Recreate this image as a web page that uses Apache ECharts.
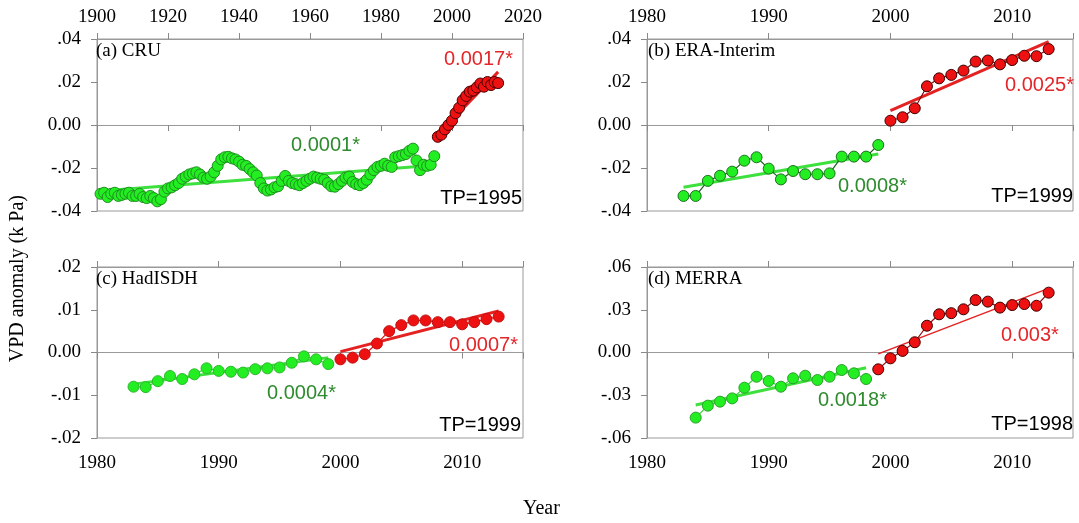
<!DOCTYPE html>
<html>
<head>
<meta charset="utf-8">
<script src="https://cdn.jsdelivr.net/npm/echarts@6.0.0/dist/echarts.min.js"></script>
<style>
html, body { margin: 0; padding: 0; background: #fff; }
#chart { width: 1079px; height: 523px; }
</style>
</head>
<body>
<div id="chart"></div>
<script>
// (a) CRU, green 1901-1995, red 1996-2013
var cruGreenStart = 1901;
var cruGreen = [
    -0.032, -0.0315, -0.0335, -0.032, -0.0315, -0.033, -0.0325, -0.032, -0.0315, -0.033,
    -0.033, -0.032, -0.0335, -0.034, -0.033, -0.034, -0.0355, -0.0345, -0.031, -0.0295,
    -0.029, -0.028, -0.027, -0.025, -0.024, -0.023, -0.0225, -0.022, -0.023, -0.0245,
    -0.025, -0.024, -0.022, -0.019, -0.016, -0.015, -0.0148, -0.0155, -0.016, -0.017,
    -0.0185, -0.019, -0.0205, -0.022, -0.0235, -0.027, -0.0295, -0.0305, -0.030, -0.029,
    -0.0285, -0.026, -0.0237, -0.026, -0.027, -0.0275, -0.028, -0.027, -0.026, -0.025,
    -0.024, -0.0245, -0.025, -0.0255, -0.027, -0.0285, -0.0287, -0.0275, -0.026, -0.0245,
    -0.024, -0.0265, -0.0275, -0.028, -0.027, -0.0255, -0.023, -0.021, -0.0195, -0.019,
    -0.018, -0.019, -0.0195, -0.015, -0.0145, -0.014, -0.0135, -0.012, -0.011, -0.0165,
    -0.021, -0.0185, -0.019, -0.0185, -0.0145
];
var cruRedStart = 1996;
var cruRed = [-0.0055, -0.0045, -0.002, 0.000, 0.002, 0.0055, 0.008, 0.0115, 0.0135,
    0.0155, 0.016, 0.0175, 0.0193, 0.0178, 0.020, 0.0186, 0.020, 0.0195];
var cruGreenTrend = [[1901, -0.0307], [1995, -0.0187]];
var cruRedTrend = [[1996, -0.0045], [2013, 0.0247]];

// (b) ERA-Interim, green 1983-1999, red 2000-2013
var eraGreenStart = 1983;
var eraGreen = [-0.033, -0.033, -0.026, -0.0236, -0.0217, -0.0166, -0.015, -0.0203, -0.0253,
    -0.0214, -0.0229, -0.0229, -0.0225, -0.0147, -0.0147, -0.0147, -0.0093];
var eraRedStart = 2000;
var eraRed = [0.002, 0.0036, 0.0078, 0.018, 0.0217, 0.0233, 0.0253, 0.0295, 0.030, 0.0282,
    0.0302, 0.0322, 0.032, 0.0353];
var eraGreenTrend = [[1983, -0.029], [1999, -0.0135]];
var eraRedTrend = [[2000, 0.0067], [2013, 0.0388]];

// (c) HadISDH, green 1983-1999, red 2000-2013
var hadGreenStart = 1983;
var hadGreen = [-0.008, -0.0081, -0.0067, -0.0055, -0.0062, -0.0051, -0.0037, -0.0043, -0.0045,
    -0.0047, -0.0039, -0.0037, -0.0035, -0.0024, -0.0009, -0.0016, -0.0027];
var hadRedStart = 2000;
var hadRed = [-0.0016, -0.0012, -0.0004, 0.0021, 0.005, 0.0064, 0.0075, 0.0075, 0.0071, 0.0071,
    0.0066, 0.0071, 0.0078, 0.0084];
var hadGreenTrend = [[1983, -0.0074], [1999, -0.0012]];
var hadRedTrend = [[2000, 0.0002], [2013, 0.0097]];

// (d) MERRA, green 1984-1998, red 1999-2013
var merGreenStart = 1984;
var merGreen = [-0.0457, -0.0373, -0.0345, -0.0322, -0.0247, -0.017, -0.020, -0.024, -0.0181,
    -0.0163, -0.0193, -0.017, -0.0123, -0.0146, -0.0186];
var merRedStart = 1999;
var merRed = [-0.0118, -0.0041, 0.0011, 0.0072, 0.0188, 0.0268, 0.0276, 0.0303, 0.0368, 0.0357,
    0.0315, 0.0333, 0.034, 0.0328, 0.042];
var merGreenTrend = [[1984, -0.0368], [1998, -0.0107]];
var merRedTrend = [[1999, -0.001], [2013, 0.045]];

var panelNames = ['(a) CRU', '(b) ERA-Interim', '(c) HadISDH', '(d) MERRA'];
var greenSlopes = ['0.0001*', '0.0008*', '0.0004*', '0.0018*'];
var redSlopes = ['0.0017*', '0.0025*', '0.0007*', '0.003*'];
var turningPoints = ['TP=1995', 'TP=1999', 'TP=1999', 'TP=1998'];
var yRanges = [[-0.04, 0.04, 0.02], [-0.04, 0.04, 0.02], [-0.02, 0.02, 0.01], [-0.06, 0.06, 0.03]];
var xRanges = [[1900, 2020, 20], [1980, 2015, 10], [1980, 2015, 10], [1980, 2015, 10]];

var SERIF = 'Liberation Serif';
var SANS = 'Liberation Sans';

function pts(start, vals) {
    return vals.map(function (v, i) { return [start + i, v]; });
}

var grids = [
    {left: 97, top: 39, width: 426, height: 172},
    {left: 647, top: 39, width: 426, height: 172},
    {left: 97, top: 267, width: 426, height: 171},
    {left: 647, top: 267, width: 426, height: 171}
];

var panels = [
    {green: pts(cruGreenStart, cruGreen), red: pts(cruRedStart, cruRed), gt: cruGreenTrend, rt: cruRedTrend,
        gLine: '#2bbf2b', gBorder: '#1f8f1f', rLine: '#a01010', rBorder: '#4a0000', rtWidth: 3},
    {green: pts(eraGreenStart, eraGreen), red: pts(eraRedStart, eraRed), gt: eraGreenTrend, rt: eraRedTrend,
        gLine: '#1d5e1d', gBorder: '#1d6e1d', rLine: '#7a0a0a', rBorder: '#3a0000', rtWidth: 3},
    {green: pts(hadGreenStart, hadGreen), red: pts(hadRedStart, hadRed), gt: hadGreenTrend, rt: hadRedTrend,
        gLine: '#33d633', gBorder: '#2cb82c', rLine: '#e01515', rBorder: '#c01010', rtWidth: 3},
    {green: pts(merGreenStart, merGreen), red: pts(merRedStart, merRed), gt: merGreenTrend, rt: merRedTrend,
        gLine: '#33d633', gBorder: '#2aa02a', rLine: '#901010', rBorder: '#400000', rtWidth: 1.5}
];

function yFmt(v) {
    if (Math.abs(v) < 1e-9) return '0.00';
    return (v < 0 ? '-' : '') + Math.abs(v).toFixed(2).replace(/^0/, '');
}

var xAxes = [], yAxes = [], series = [];
for (var i = 0; i < 4; i++) {
    var labelsTop = i < 2;
    ['bottom', 'top'].forEach(function (pos) {
        var xr = xRanges[i];
        var showLab = (pos === 'top') === labelsTop;
        xAxes.push({
            type: 'value', gridIndex: i, position: pos,
            min: xr[0], max: xr[1], interval: xr[2],
            axisLine: {show: true, lineStyle: {color: '#999', width: 1}},
            axisTick: {show: true, inside: false, length: 6, lineStyle: {color: '#888'}},
            axisLabel: {
                show: showLab, color: '#000', fontFamily: SERIF, fontSize: 19,
                margin: pos === 'top' ? 12 : 16,
                formatter: function (v) { return v % xr[2] === 0 ? String(v) : ''; }
            },
            splitLine: {show: false}
        });
    });
    var yr = yRanges[i];
    yAxes.push({
        type: 'value', gridIndex: i, min: yr[0], max: yr[1], interval: yr[2],
        axisLine: {show: true, lineStyle: {color: '#999', width: 1}},
        axisTick: {show: true, inside: false, length: 6, lineStyle: {color: '#888'}},
        axisLabel: {color: '#000', fontFamily: SERIF, fontSize: 19, margin: 16, formatter: yFmt},
        splitLine: {show: false}
    });

    var p = panels[i];
    var xi = i * 2;
    series.push({
        type: 'line', xAxisIndex: xi, yAxisIndex: i, data: p.gt, symbol: 'none', silent: true,
        lineStyle: {color: '#3ee03e', width: 3}, z: 1
    });
    series.push({
        type: 'line', xAxisIndex: xi, yAxisIndex: i, data: p.rt, symbol: 'none', silent: true,
        lineStyle: {color: '#e52222', width: p.rtWidth}, z: 1
    });
    series.push({
        type: 'line', xAxisIndex: xi, yAxisIndex: i, data: p.green, symbol: 'circle', symbolSize: 11,
        lineStyle: {color: p.gLine, width: 1.2},
        itemStyle: {color: '#22ee22', borderColor: p.gBorder, borderWidth: 1}, z: 3
    });
    series.push({
        type: 'line', xAxisIndex: xi, yAxisIndex: i, data: p.red, symbol: 'circle', symbolSize: 11,
        lineStyle: {color: p.rLine, width: 1.2},
        itemStyle: {color: '#ee1111', borderColor: p.rBorder, borderWidth: 1}, z: 3
    });
}

function txt(pos, text, color, family, size) {
    var el = {type: 'text', style: {text: text, fill: color, font: size + 'px "' + family + '"'}, z: 10};
    for (var k in pos) el[k] = pos[k];
    return el;
}

var GREEN_TXT = '#2e8b2e';
var RED_TXT = '#e3262a';
var graphics = [
    txt({left: 96, top: 42}, panelNames[0], '#000', SERIF, 19),
    txt({left: 648, top: 42}, panelNames[1], '#000', SERIF, 19),
    txt({left: 96, top: 270}, panelNames[2], '#000', SERIF, 19),
    txt({left: 648, top: 270}, panelNames[3], '#000', SERIF, 19),

    txt({left: 291, top: 135}, greenSlopes[0], GREEN_TXT, SANS, 20),
    txt({left: 838, top: 176}, greenSlopes[1], GREEN_TXT, SANS, 20),
    txt({left: 267, top: 383}, greenSlopes[2], GREEN_TXT, SANS, 20),
    txt({left: 818, top: 390}, greenSlopes[3], GREEN_TXT, SANS, 20),

    txt({left: 444, top: 49}, redSlopes[0], RED_TXT, SANS, 20),
    txt({left: 1005, top: 75}, redSlopes[1], RED_TXT, SANS, 20),
    txt({left: 449, top: 335}, redSlopes[2], RED_TXT, SANS, 20),
    txt({left: 1001, top: 325}, redSlopes[3], RED_TXT, SANS, 20),

    txt({right: 557, top: 188}, turningPoints[0], '#000', SANS, 20),
    txt({right: 6, top: 186}, turningPoints[1], '#000', SANS, 20),
    txt({right: 558, top: 415}, turningPoints[2], '#000', SANS, 20),
    txt({right: 6, top: 414}, turningPoints[3], '#000', SANS, 20),

    txt({left: 8, top: 195, rotation: Math.PI / 2}, 'VPD anomaly (k Pa)', '#000', SERIF, 20),
    txt({left: 523, top: 499}, 'Year', '#000', SERIF, 20)
];

var chart = echarts.init(document.getElementById('chart'));
chart.setOption({
    animation: false,
    backgroundColor: '#fff',
    grid: grids.map(function (g) {
        return {left: g.left, top: g.top, width: g.width, height: g.height, show: true,
            borderColor: '#999', borderWidth: 1, backgroundColor: 'transparent'};
    }),
    xAxis: xAxes,
    yAxis: yAxes,
    series: series,
    graphic: graphics
});
</script>
</body>
</html>
